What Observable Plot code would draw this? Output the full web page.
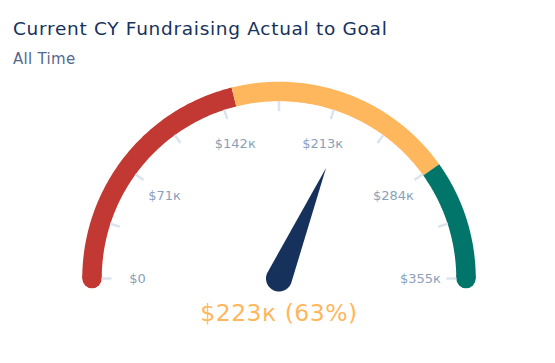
<!DOCTYPE html>
<html><head><meta charset="utf-8">
<script src="https://cdn.jsdelivr.net/npm/d3@7"></script>
<script src="https://cdn.jsdelivr.net/npm/@observablehq/plot@0.6"></script>
<style>
body{margin:0;background:#fff;}
#wrap{position:relative;width:555px;height:363px;overflow:hidden;font-family:"DejaVu Sans",sans-serif;}
#chart{position:absolute;left:0;top:0;}
#title{position:absolute;left:13px;top:20.3px;font-size:18.5px;line-height:1;color:#16325C;white-space:nowrap;letter-spacing:0.7px;}
#sub{position:absolute;left:13px;top:52.3px;font-size:15px;line-height:1;color:#54698D;white-space:nowrap;letter-spacing:0.3px;}
#chart svg .val text{letter-spacing:0.5px;}
</style></head>
<body>
<div id="wrap"><div id="chart"></div><div id="title"></div><div id="sub"></div></div>
<script>
// ---- data ----
const titleText = "Current CY Fundraising Actual to Goal";
const subtitleText = "All Time";
const goal = 355000;
const actual = 223000;
const valueLabel = "$223к (63%)";
const bandStops = [0, 150000, 285000, 355000];
const bandColors = ["#C23934", "#FFB75D", "#02756B"];
const labelValues = [0, 71000, 142000, 213000, 284000, 355000];
const tickLabels = ["$0", "$71к", "$142к", "$213к", "$284к", "$355к"];
const minorTickValues = [0, 35500, 71000, 106500, 142000, 177500, 213000, 248500, 284000, 319500, 355000];

document.getElementById("title").textContent = titleText;
document.getElementById("sub").textContent = subtitleText;

// ---- layout ----
const W = 555, H = 363;
const R = 187;            // arc mid radius in px
const cx = 278.5, cy = 278;
const u = v => v / R;     // px -> plot units
const theta = v => Math.PI * (1 - v / goal);
const pol = (v, r) => ({x: r * Math.cos(theta(v)), y: r * Math.sin(theta(v))});

// band arcs
const bandPts = [];
bandColors.forEach((c, i) => {
  const v0 = bandStops[i], v1 = bandStops[i + 1];
  const n = 120;
  for (let k = 0; k <= n; k++) {
    const v = v0 + (v1 - v0) * k / n;
    bandPts.push({...pol(v, 1), band: i, color: c});
  }
});
const caps = [
  {...pol(bandStops[0], 1), color: bandColors[0]},
  {...pol(bandStops[bandStops.length - 1], 1), color: bandColors[bandColors.length - 1]}
];

const ticks = minorTickValues.map(v => {
  const a = pol(v, u(167.5)), b = pol(v, u(177.5));
  return {x1: a.x, y1: a.y, x2: b.x, y2: b.y};
});
const labels = labelValues.map((v, i) => ({...pol(v, u(141.5)), text: tickLabels[i]}));

// needle
const th = theta(actual);
const L = u(120), b = u(13);
const alpha = Math.acos(b / L);
const needle = [{x: L * Math.cos(th), y: L * Math.sin(th)}];
for (let k = 0; k <= 60; k++) {
  const a = th + alpha + (2 * Math.PI - 2 * alpha) * k / 60;
  needle.push({x: b * Math.cos(a), y: b * Math.sin(a)});
}
needle.push(needle[0]);

const chart = Plot.plot({
  width: W, height: H,
  margin: 0, marginTop: 0, marginRight: 0, marginBottom: 0, marginLeft: 0,
  x: {domain: [-cx / R, (W - cx) / R], range: [0, W], axis: null},
  y: {domain: [-(H - cy) / R, cy / R], range: [H, 0], axis: null},
  color: {type: "identity"},
  style: {fontFamily: "'DejaVu Sans', sans-serif", background: "transparent"},
  marks: [
    Plot.line(bandPts, {x: "x", y: "y", z: "band", stroke: "color", strokeWidth: 19.5, strokeLinecap: "butt", strokeLinejoin: "round"}),
    Plot.dot(caps, {x: "x", y: "y", r: 9.75, fill: "color", stroke: null}),
    Plot.link(ticks, {x1: "x1", y1: "y1", x2: "x2", y2: "y2", stroke: "#DCE3EB", strokeWidth: 2.5}),
    Plot.text(labels, {x: "x", y: "y", text: "text", fill: "#8A9FBA", fontSize: 13}),
    Plot.line(needle, {x: "x", y: "y", fill: "#16325C", stroke: "none"}),
    Plot.text([valueLabel], {x: () => 0, y: () => u(-34.5), text: d => d, fill: "#FFB75D", fontSize: 23.5, className: "val"})
  ]
});
document.getElementById("chart").appendChild(chart);
</script>
</body></html>
